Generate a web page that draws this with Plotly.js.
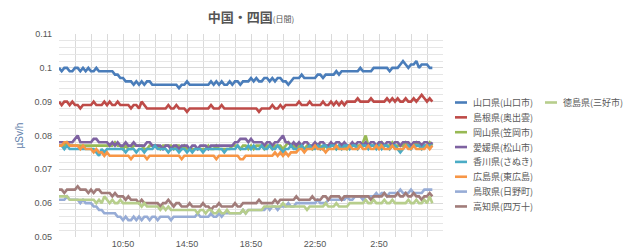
<!DOCTYPE html>
<html>
<head>
<meta charset="utf-8">
<script src="https://cdn.plot.ly/plotly-3.0.1.min.js"></script>
<style>html,body{margin:0;padding:0;background:#fff;}#chart{width:640px;height:248px;}</style>
</head>
<body>
<div id="chart"></div>
<script>
// ---- data (µSv/h, every 10 minutes from 06:50) ----
const startTime = '2013-05-01 06:50';
const stepMinutes = 10;
const xRange = ['2013-05-01 06:50', '2013-05-02 06:50'];
const tickTimes = ['2013-05-01 10:50','2013-05-01 14:50','2013-05-01 18:50','2013-05-01 22:50','2013-05-02 02:50'];
const tickLabels = ['10:50','14:50','18:50','22:50','2:50'];

const seriesNames = ['山口県(山口市)','島根県(奥出雲)','岡山県(笠岡市)','愛媛県(松山市)','香川県(さぬき)','広島県(東広島)','鳥取県(日野町)','高知県(四万十)','徳島県(三好市)'];
const seriesColors = ['#4A7DBA','#BE4B48','#98B954','#7E62A1','#4BACC6','#F79646','#97ACD6','#A17C7A','#B7CE8C'];

const yamaguchi = [
0.100,0.099,0.100,0.100,0.099,0.099,0.100,0.100,0.099,0.100,
0.099,0.100,0.099,0.099,0.100,0.099,0.099,0.099,0.099,0.099,
0.099,0.098,0.098,0.097,0.097,0.096,0.096,0.096,0.095,0.096,
0.095,0.096,0.095,0.096,0.096,0.095,0.095,0.095,0.095,0.095,
0.095,0.095,0.095,0.095,0.095,0.094,0.095,0.095,0.096,0.095,
0.095,0.095,0.095,0.095,0.095,0.095,0.095,0.096,0.095,0.096,
0.095,0.096,0.095,0.095,0.096,0.095,0.096,0.096,0.095,0.096,
0.096,0.096,0.097,0.096,0.097,0.096,0.096,0.097,0.097,0.096,
0.097,0.096,0.097,0.097,0.096,0.096,0.095,0.096,0.097,0.097,
0.097,0.098,0.097,0.097,0.097,0.097,0.097,0.098,0.098,0.097,
0.098,0.098,0.098,0.098,0.099,0.098,0.099,0.099,0.099,0.099,
0.099,0.099,0.099,0.100,0.099,0.099,0.099,0.099,0.100,0.100,
0.100,0.100,0.100,0.100,0.099,0.100,0.100,0.100,0.101,0.102,
0.101,0.100,0.101,0.101,0.102,0.100,0.101,0.101,0.101,0.100,0.100];

const shimane = [
0.090,0.089,0.090,0.090,0.089,0.090,0.089,0.089,0.088,0.089,
0.089,0.089,0.089,0.090,0.089,0.089,0.089,0.090,0.089,0.090,
0.089,0.089,0.090,0.089,0.089,0.089,0.089,0.088,0.089,0.089,
0.088,0.090,0.089,0.088,0.088,0.088,0.088,0.088,0.088,0.088,
0.088,0.089,0.088,0.088,0.089,0.088,0.088,0.088,0.087,0.088,
0.088,0.088,0.088,0.088,0.088,0.088,0.088,0.089,0.088,0.088,
0.088,0.089,0.088,0.088,0.088,0.088,0.088,0.088,0.088,0.088,
0.088,0.088,0.088,0.088,0.088,0.087,0.088,0.088,0.088,0.088,
0.089,0.088,0.088,0.089,0.088,0.089,0.089,0.089,0.089,0.089,
0.090,0.089,0.089,0.089,0.090,0.089,0.089,0.089,0.089,0.090,
0.089,0.089,0.090,0.089,0.090,0.089,0.090,0.089,0.090,0.090,
0.090,0.090,0.091,0.090,0.090,0.090,0.090,0.091,0.090,0.090,
0.090,0.090,0.090,0.091,0.090,0.091,0.090,0.091,0.090,0.090,
0.091,0.090,0.090,0.091,0.090,0.091,0.092,0.091,0.090,0.091,0.090];

const okayama = [
0.077,0.077,0.077,0.078,0.077,0.077,0.077,0.077,0.077,0.077,
0.077,0.077,0.077,0.077,0.077,0.077,0.077,0.077,0.077,0.077,
0.077,0.078,0.077,0.077,0.076,0.077,0.076,0.076,0.077,0.077,
0.077,0.077,0.076,0.076,0.077,0.077,0.077,0.077,0.076,0.077,
0.077,0.077,0.077,0.076,0.077,0.077,0.076,0.077,0.076,0.076,
0.076,0.076,0.076,0.076,0.076,0.076,0.077,0.076,0.076,0.077,
0.076,0.076,0.076,0.076,0.076,0.077,0.077,0.077,0.076,0.077,
0.077,0.076,0.077,0.076,0.077,0.077,0.077,0.076,0.077,0.077,
0.076,0.077,0.077,0.077,0.076,0.077,0.078,0.077,0.077,0.076,
0.077,0.077,0.076,0.077,0.077,0.076,0.077,0.077,0.077,0.076,
0.077,0.077,0.077,0.077,0.076,0.077,0.077,0.077,0.076,0.077,
0.077,0.077,0.077,0.077,0.078,0.080,0.077,0.077,0.077,0.077,
0.077,0.078,0.077,0.077,0.077,0.078,0.077,0.077,0.077,0.077,
0.078,0.077,0.077,0.077,0.078,0.077,0.077,0.077,0.077,0.078,0.077];

const ehime = [
0.078,0.078,0.078,0.078,0.078,0.078,0.079,0.080,0.078,0.078,
0.078,0.078,0.078,0.079,0.079,0.078,0.078,0.078,0.078,0.077,
0.078,0.077,0.078,0.077,0.077,0.078,0.077,0.077,0.078,0.077,
0.077,0.077,0.077,0.078,0.078,0.077,0.077,0.077,0.077,0.076,
0.077,0.077,0.076,0.077,0.077,0.076,0.077,0.077,0.077,0.076,
0.077,0.077,0.076,0.077,0.077,0.077,0.076,0.077,0.077,0.077,
0.077,0.077,0.077,0.077,0.077,0.077,0.078,0.078,0.079,0.079,
0.079,0.078,0.079,0.078,0.078,0.078,0.078,0.077,0.078,0.078,
0.077,0.078,0.078,0.079,0.080,0.078,0.078,0.077,0.078,0.077,
0.078,0.077,0.078,0.078,0.077,0.077,0.078,0.077,0.078,0.078,
0.077,0.077,0.078,0.077,0.078,0.078,0.077,0.078,0.077,0.077,
0.078,0.077,0.078,0.078,0.077,0.078,0.077,0.078,0.078,0.077,
0.078,0.078,0.077,0.078,0.078,0.077,0.078,0.078,0.077,0.078,
0.078,0.078,0.077,0.078,0.078,0.078,0.077,0.078,0.078,0.077,0.078];

const kagawa = [
0.077,0.077,0.076,0.077,0.076,0.076,0.076,0.076,0.076,0.076,
0.076,0.076,0.076,0.076,0.075,0.074,0.076,0.075,0.076,0.076,
0.076,0.076,0.076,0.076,0.076,0.075,0.076,0.076,0.076,0.075,
0.076,0.076,0.075,0.076,0.076,0.076,0.077,0.076,0.076,0.076,
0.076,0.075,0.076,0.076,0.076,0.075,0.076,0.076,0.075,0.076,
0.075,0.076,0.076,0.076,0.075,0.076,0.076,0.076,0.076,0.076,
0.076,0.076,0.075,0.076,0.076,0.076,0.076,0.077,0.076,0.076,
0.076,0.077,0.076,0.077,0.076,0.076,0.077,0.076,0.076,0.077,
0.076,0.076,0.077,0.076,0.075,0.076,0.076,0.077,0.076,0.076,
0.076,0.077,0.076,0.076,0.077,0.076,0.076,0.077,0.076,0.077,
0.077,0.076,0.077,0.077,0.076,0.077,0.076,0.077,0.077,0.076,
0.077,0.077,0.076,0.077,0.077,0.077,0.076,0.077,0.077,0.076,
0.077,0.076,0.077,0.077,0.076,0.077,0.077,0.076,0.075,0.076,
0.077,0.077,0.076,0.077,0.077,0.077,0.076,0.077,0.077,0.077,0.077];

const hiroshima = [
0.077,0.077,0.078,0.078,0.077,0.077,0.077,0.077,0.076,0.077,
0.076,0.076,0.076,0.075,0.076,0.075,0.075,0.074,0.075,0.074,
0.074,0.074,0.074,0.074,0.074,0.074,0.074,0.073,0.074,0.074,
0.074,0.074,0.074,0.073,0.074,0.074,0.074,0.074,0.074,0.074,
0.074,0.074,0.074,0.074,0.074,0.074,0.073,0.074,0.074,0.074,
0.074,0.074,0.074,0.074,0.074,0.074,0.074,0.074,0.074,0.073,
0.074,0.074,0.074,0.074,0.074,0.074,0.074,0.074,0.073,0.073,
0.074,0.074,0.074,0.074,0.074,0.074,0.074,0.074,0.074,0.074,
0.074,0.075,0.074,0.075,0.074,0.075,0.074,0.075,0.075,0.075,
0.076,0.076,0.075,0.076,0.076,0.076,0.077,0.076,0.076,0.076,
0.075,0.076,0.076,0.076,0.077,0.076,0.076,0.076,0.076,0.077,
0.076,0.076,0.076,0.077,0.076,0.076,0.077,0.076,0.076,0.077,
0.076,0.077,0.076,0.076,0.076,0.077,0.076,0.076,0.076,0.076,
0.077,0.076,0.076,0.077,0.076,0.076,0.076,0.076,0.077,0.076,0.077];

const tottori = [
0.061,0.061,0.061,0.062,0.061,0.061,0.061,0.061,0.060,0.061,
0.060,0.060,0.060,0.059,0.059,0.058,0.058,0.057,0.057,0.057,
0.057,0.057,0.056,0.056,0.055,0.056,0.055,0.055,0.056,0.055,
0.056,0.055,0.056,0.056,0.055,0.056,0.056,0.055,0.056,0.056,
0.056,0.056,0.055,0.056,0.056,0.056,0.056,0.056,0.056,0.056,
0.056,0.056,0.057,0.056,0.056,0.056,0.056,0.057,0.056,0.056,
0.057,0.056,0.057,0.057,0.057,0.057,0.057,0.057,0.057,0.058,
0.057,0.058,0.058,0.058,0.058,0.058,0.058,0.058,0.059,0.058,
0.059,0.059,0.058,0.059,0.059,0.059,0.060,0.059,0.059,0.060,
0.060,0.060,0.060,0.060,0.060,0.060,0.060,0.061,0.060,0.060,
0.060,0.061,0.061,0.061,0.061,0.061,0.061,0.061,0.062,0.061,
0.061,0.062,0.062,0.062,0.061,0.062,0.062,0.062,0.062,0.063,
0.062,0.063,0.063,0.062,0.063,0.063,0.063,0.063,0.064,0.063,
0.063,0.063,0.064,0.063,0.063,0.063,0.063,0.064,0.064,0.064,0.064];

const kochi = [
0.064,0.064,0.063,0.064,0.064,0.064,0.064,0.065,0.064,0.064,
0.064,0.063,0.064,0.063,0.064,0.064,0.063,0.063,0.063,0.063,
0.062,0.063,0.062,0.062,0.062,0.061,0.062,0.061,0.061,0.061,
0.060,0.061,0.060,0.060,0.060,0.060,0.060,0.060,0.059,0.060,
0.060,0.061,0.060,0.059,0.060,0.060,0.059,0.059,0.059,0.060,
0.059,0.059,0.059,0.059,0.060,0.059,0.059,0.058,0.059,0.059,
0.060,0.059,0.059,0.059,0.059,0.059,0.060,0.059,0.059,0.060,
0.060,0.060,0.060,0.060,0.060,0.061,0.060,0.060,0.060,0.060,
0.060,0.061,0.060,0.061,0.061,0.061,0.061,0.061,0.061,0.062,
0.061,0.061,0.061,0.061,0.061,0.062,0.061,0.061,0.061,0.062,
0.062,0.061,0.062,0.062,0.062,0.062,0.061,0.062,0.062,0.062,
0.062,0.062,0.062,0.062,0.062,0.062,0.062,0.061,0.062,0.062,
0.062,0.062,0.063,0.062,0.062,0.062,0.062,0.063,0.062,0.062,
0.063,0.062,0.062,0.063,0.062,0.062,0.061,0.062,0.062,0.063,0.062];

const tokushima = [
0.062,0.062,0.062,0.062,0.061,0.061,0.061,0.061,0.061,0.061,
0.061,0.061,0.061,0.061,0.060,0.061,0.060,0.062,0.061,0.060,
0.061,0.060,0.060,0.061,0.060,0.060,0.060,0.060,0.060,0.060,
0.060,0.059,0.060,0.059,0.059,0.059,0.059,0.059,0.058,0.059,
0.058,0.059,0.058,0.058,0.058,0.058,0.058,0.058,0.058,0.058,
0.058,0.058,0.057,0.058,0.058,0.057,0.058,0.058,0.057,0.057,
0.058,0.057,0.057,0.058,0.057,0.057,0.057,0.057,0.057,0.058,
0.057,0.058,0.058,0.058,0.058,0.058,0.058,0.059,0.059,0.059,
0.059,0.059,0.059,0.059,0.060,0.059,0.059,0.059,0.059,0.059,
0.059,0.059,0.059,0.058,0.059,0.059,0.059,0.059,0.059,0.059,
0.060,0.059,0.059,0.059,0.060,0.059,0.059,0.059,0.059,0.060,
0.060,0.060,0.060,0.060,0.060,0.061,0.060,0.060,0.061,0.060,
0.060,0.060,0.061,0.060,0.060,0.061,0.060,0.060,0.060,0.060,
0.060,0.061,0.060,0.060,0.061,0.060,0.060,0.061,0.060,0.062,0.060];

const seriesValues = [yamaguchi, shimane, okayama, ehime, kagawa, hiroshima, tottori, kochi, tokushima];

// ---- time categories ----
function pad(n){ return (n < 10 ? '0' : '') + n; }
function timeList(start, step, count){
  const [d, t] = start.split(' ');
  const [Y, M, D] = d.split('-').map(Number);
  const [h, m] = t.split(':').map(Number);
  const base = Date.UTC(Y, M - 1, D, h, m);
  const out = [];
  for (let i = 0; i < count; i++) {
    const dt = new Date(base + i * step * 60000);
    out.push(dt.getUTCFullYear() + '-' + pad(dt.getUTCMonth() + 1) + '-' + pad(dt.getUTCDate()) + ' ' + pad(dt.getUTCHours()) + ':' + pad(dt.getUTCMinutes()));
  }
  return out;
}
const times = timeList(startTime, stepMinutes, yamaguchi.length);

// ---- layout geometry ----
const W = 640, H = 248;
const M = {l: 59, r: 197, t: 34, b: 11};
const plotW = W - M.l - M.r, plotH = H - M.t - M.b;
const px = x => (x - M.l) / plotW;
const py = y => (H - M.b - y) / plotH;

const traces = seriesValues.map((vals, k) => ({
  type: 'scatter', mode: 'lines', x: times, y: vals, name: seriesNames[k],
  line: {color: seriesColors[k], width: 2.6}, showlegend: false, hoverinfo: 'skip'
}));

// manual legend: 8 rows in column 1, the 9th at top of column 2
const shapes = [], annotations = [];
seriesNames.forEach((name, k) => {
  const col = k < 8 ? 0 : 1;
  const row = k < 8 ? k : 0;
  const sx = col === 0 ? 455 : 545;
  const yy = 102.5 + row * 14.85;
  shapes.push({type: 'line', xref: 'paper', yref: 'paper', x0: px(sx), x1: px(sx + 12), y0: py(yy), y1: py(yy),
    line: {color: seriesColors[k], width: 2.6}});
  annotations.push({xref: 'paper', yref: 'paper', x: px(sx + 16), y: py(yy), xanchor: 'left', yanchor: 'middle',
    text: name, showarrow: false, font: {family: 'Noto Sans CJK JP', size: 9, color: '#595959'}});
});

const gridColor = '#DADADA';
const layout = {
  width: W, height: H, margin: M, paper_bgcolor: '#fff', plot_bgcolor: '#fff',
  title: {text: '中国・四国<span style="font-size:8px;font-weight:normal">(日間)</span>', x: 0.5, xref: 'paper', xanchor: 'center', y: 1 - 17 / H, yanchor: 'middle',
    font: {family: 'Noto Sans CJK JP', size: 13, color: '#555555', weight: 'bold'}},
  xaxis: {type: 'date', range: xRange, tickmode: 'array', tickvals: tickTimes, ticktext: tickLabels,
    showgrid: true, gridcolor: gridColor, gridwidth: 1, zeroline: false, showline: false, ticks: '',
    tickfont: {family: 'Liberation Sans', size: 9, color: '#555555'},
    minor: {tickmode: 'linear', dtick: 3600000, tick0: startTime, showgrid: true, gridcolor: gridColor, gridwidth: 1, ticks: ''},
    fixedrange: true},
  yaxis: {range: [0.05, 0.11], dtick: 0.01, tick0: 0.05, showgrid: true, gridcolor: gridColor, gridwidth: 1,
    zeroline: false, showline: false, ticks: '', ticklabelstandoff: 6,
    tickfont: {family: 'Liberation Sans', size: 9, color: '#555555'},
    minor: {dtick: 0.002, showgrid: true, gridcolor: '#E6E6E6', gridwidth: 1, ticks: ''},
    title: {text: 'µSv/h', standoff: 8, font: {family: 'Liberation Sans', size: 10, color: '#5F80AA'}},
    fixedrange: true},
  shapes: shapes, annotations: annotations, showlegend: false
};

Plotly.newPlot('chart', traces, layout, {staticPlot: true, displayModeBar: false});
</script>
</body>
</html>
